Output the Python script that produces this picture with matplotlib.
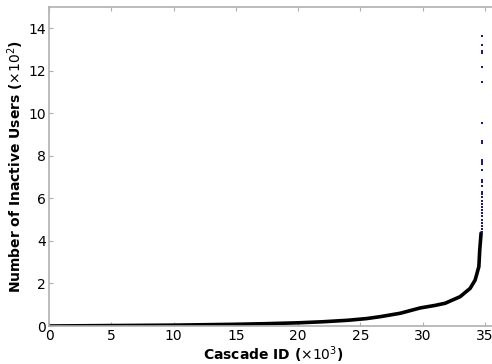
import matplotlib
matplotlib.use("Agg")
import matplotlib.pyplot as plt

# Sorted number of inactive users per cascade (cascade id in thousands, users in hundreds)
cascade_ids = [0.0, 2.5, 5.0, 7.5, 10.0, 12.5, 15.0, 17.5, 20.0, 22.0, 24.0, 25.5,
               26.6, 28.2, 29.8, 31.0, 31.8, 33.0, 33.8, 34.2, 34.5, 34.57, 34.68]
inactive_users = [0.0, 0.01, 0.02, 0.03, 0.04, 0.06, 0.08, 0.11, 0.15, 0.2, 0.27, 0.35,
                  0.44, 0.6, 0.85, 0.97, 1.07, 1.38, 1.77, 2.16, 2.79, 3.57, 4.37]

# Largest cascades, shown as individual points
top_ids = [34.75] * 30
top_users = [13.64, 13.22, 12.95, 12.85, 12.2, 11.49, 9.53, 8.72, 8.62, 7.82, 7.72,
             7.6, 7.34, 6.87, 6.75, 6.6, 6.3, 6.2, 6.05, 5.9, 5.75, 5.6, 5.45, 5.3,
             5.15, 5.0, 4.85, 4.7, 4.55, 4.4]

x_ticks = [0, 5, 10, 15, 20, 25, 30, 35]
y_ticks = [0, 2, 4, 6, 8, 10, 12, 14]

fig = plt.figure(figsize=(4.92, 3.64), dpi=100)
ax = fig.add_axes([49 / 492, 38 / 364, (492 - 49) / 492 + 0.01, (326 - 7) / 364])

ax.plot(cascade_ids, inactive_users, color="black", lw=2.6, solid_capstyle="round")
ax.plot(top_ids, top_users, linestyle="none", marker="s", markersize=2.0,
        color="#1a1a80", markeredgewidth=0)

ax.set_xlim(0, 35.95)
ax.set_ylim(0, 15)
ax.set_xticks(x_ticks)
ax.set_yticks(y_ticks)

for side in ["left", "bottom", "top", "right"]:
    ax.spines[side].set_color("#b0b0b0")
    ax.spines[side].set_linewidth(1.2)
ax.tick_params(direction="in", color="#b0b0b0", length=3, labelsize=10,
               top=True, right=True, pad=2)

ax.set_xlabel(r"Cascade ID ($\times10^3$)", fontsize=10, fontweight="bold", labelpad=1)
ax.set_ylabel(r"Number of Inactive Users ($\times10^2$)", fontsize=10,
              fontweight="bold", labelpad=2)

fig.savefig("out.png", dpi=100)
